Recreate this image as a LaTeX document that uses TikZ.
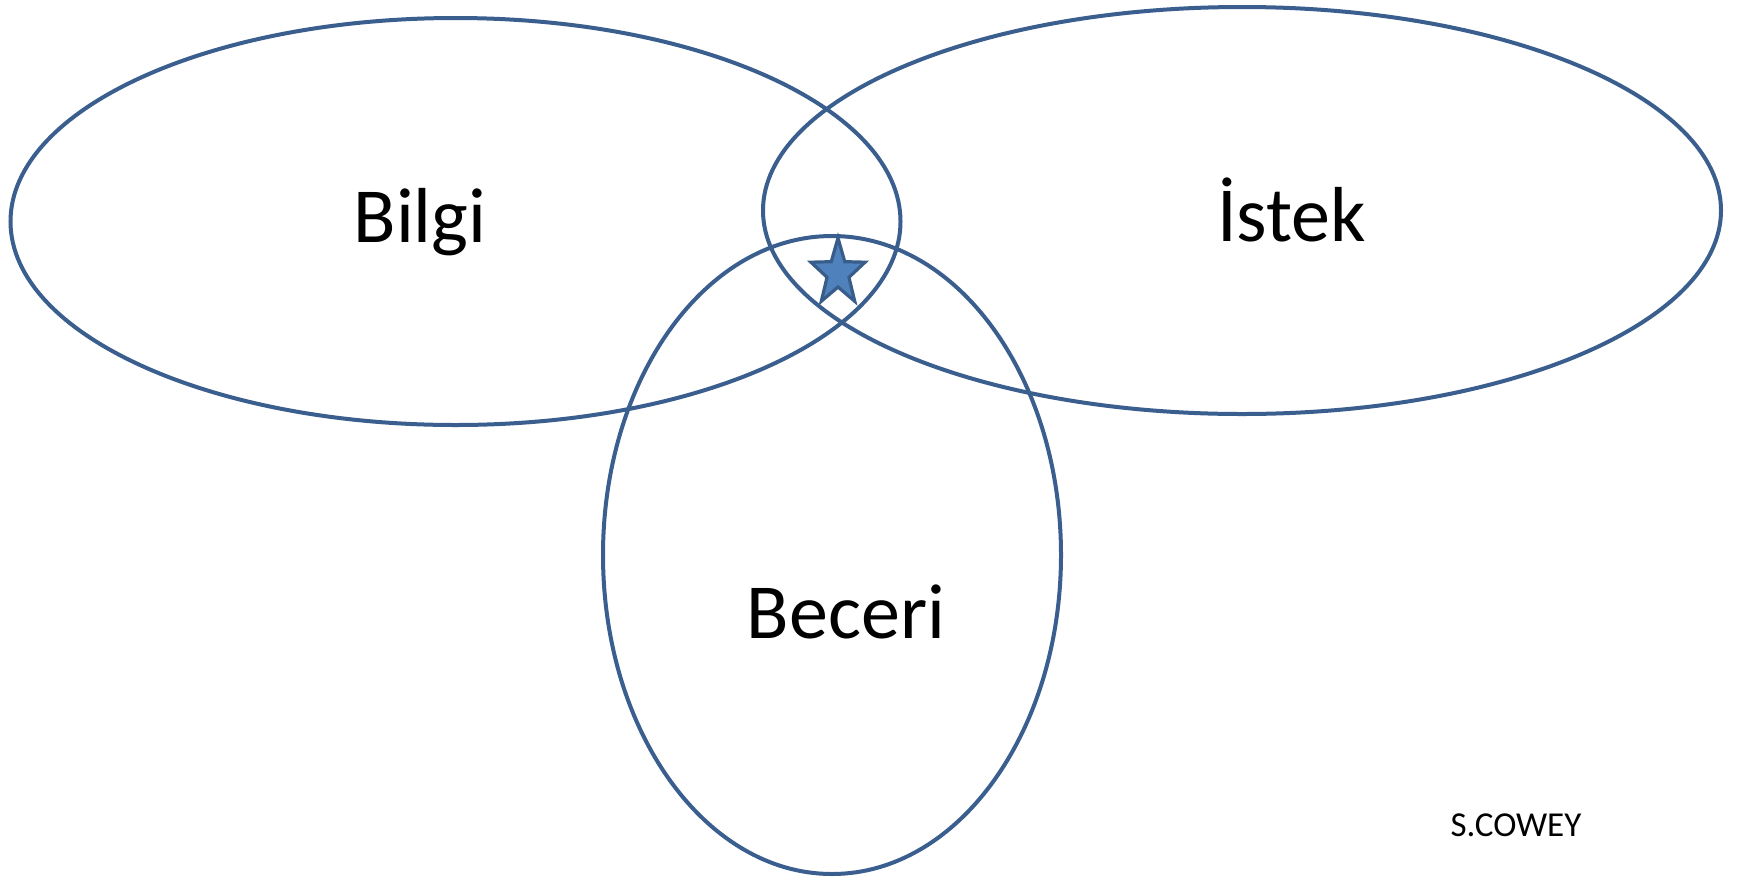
\documentclass[tikz,border=0pt]{standalone}
\usepackage{fontspec}
\setmainfont{Carlito}
\usetikzlibrary{calc}
\definecolor{edge}{HTML}{3A5E8E}
\definecolor{starfill}{HTML}{4F81BD}
\definecolor{starline}{HTML}{385D8A}
\tikzset{
  set/.style={draw=edge, line width=4pt},
  lbl/.style={anchor=base, inner sep=0pt, font=\fontsize{78}{78}\selectfont},
  sig/.style={anchor=base, inner sep=0pt, font=\fontsize{35}{35}\selectfont},
  starmark/.style={fill=starfill, draw=starline, line width=3.2pt, line join=miter},
}
\begin{document}
\begin{tikzpicture}[x=1pt,y=-1pt]
\useasboundingbox (0,0) rectangle (1742,879);
\fill[white] (0,0) rectangle (1742,879);
\draw[set] (455.5,221.5) ellipse [x radius=445, y radius=203.5];
\draw[set] (1242,210.5) ellipse [x radius=479, y radius=203.5];
\draw[set] (832,555) ellipse [x radius=229, y radius=319];
\node[lbl] (bilgi) at (420,242.7) {Bilgi};
\node[lbl] (istek) at (1291.5,241.7) {İstek};
\node[lbl] (beceri) at (846,638.3) {Beceri};
\node[sig] (sig) at (1516,836.7) {S.COWEY};
\coordinate (sc) at (838,273);
\draw[starmark]
  ($(sc)+(0,-35)$)
  \foreach \k in {1,...,9} {
    -- ($(sc)+({ifthenelse(mod(\k,2)==0,28.5,11.5)*sin(36*\k)},{-ifthenelse(mod(\k,2)==0,35,14)*cos(36*\k)})$)
  } -- cycle;
\end{tikzpicture}
\end{document}
